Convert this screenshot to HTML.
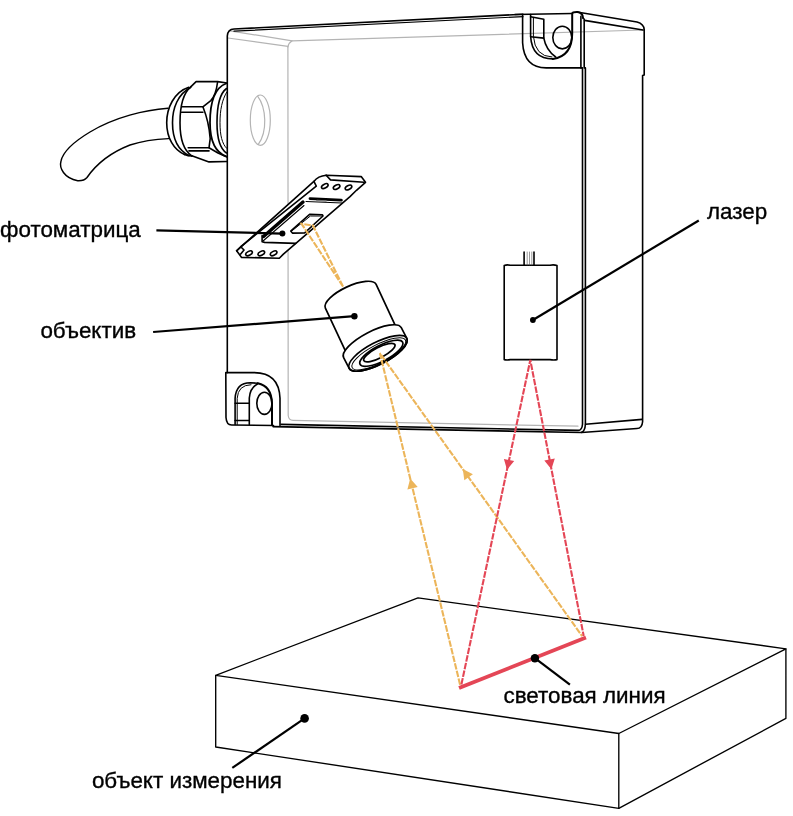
<!DOCTYPE html>
<html><head><meta charset="utf-8">
<style>
html,body{margin:0;padding:0;background:#fff;}
svg{display:block;will-change:transform;}
text{font-family:"Liberation Sans",sans-serif;font-size:22.4px;fill:#000;stroke:#000;stroke-width:0.35px;}
</style></head>
<body>
<svg width="793" height="816" viewBox="0 0 793 816">

<g fill="none" stroke="#000" stroke-width="1.6" stroke-linejoin="round" stroke-linecap="round">

<!-- ===== gray hidden lines ===== -->
<g stroke="#b4b4b4" stroke-width="1.2">
  <path d="M228,38 L287.9,46.4 L288.2,415.5 Q288.8,420.3 293,420.4 L578,426.2"/>
  <path d="M230,30.9 L292.2,40.8 L643,30"/>
  <path d="M287.9,47 Q288.5,43 292.2,40.8"/>
  <ellipse cx="260.3" cy="120.2" rx="10" ry="25.2"/>
  <path d="M257.6,96.2 C266.5,108 267.5,132 258.3,144.3"/>
</g>

<!-- ===== side face ===== -->
<path d="M577,12 L637,22 Q644,24 644.2,29.6 L644.2,75 L642.6,75.5 L642.6,421.7 Q642,428.5 636.9,428.5 L581.7,432.5"/>
<path d="M584.5,20.4 L643,30"/>
<path d="M585.5,424.2 L642,419.4"/>

<!-- ===== housing front face ===== -->
<path d="M227.3,372.6 L227.3,36 Q227.8,29.2 234,29 L523,14.2"/>
<path d="M234,31.2 L523,16.6" stroke-width="1.2"/>
<!-- top-right ear -->
<path d="M522.6,14.5 L522.6,42.8 Q524,67.9 546.2,67.9 L581.2,67.9"/>
<path d="M515,14.5 L572.2,13.5"/>
<path d="M530.6,14.5 L530.6,36.2 Q532,58.9 552.8,58.9"/>
<path d="M533.4,18.2 L533.4,36.2 Q535,56.5 552,57" stroke-width="1"/>
<path d="M552.8,58.9 Q572.2,56 572.2,33.4 L572.2,13.5 Q572.5,12 577.4,12.1 Q583,13 583.1,18.2" stroke-width="2"/>
<path d="M530.6,16.8 L543.8,19.2 L543.8,38.1 L530.6,36.7"/>
<path d="M543.8,38.1 Q546,50 555.7,57"/>
<ellipse cx="562.3" cy="37.6" rx="9.5" ry="11.3"/>
<!-- right edge double -->
<path d="M580.9,16.4 L580.9,67.9 L582.5,67.9 L582.5,424.2 Q582,430.7 577.7,430.4 L281,424.4"/>
<path d="M584.2,19 L584.2,67.9 L585.4,67.9 L585.4,424.2 Q585,431 581.7,432.2"/>
<path d="M273,426.6 L581.7,432.5"/>
<!-- bottom-left ear -->
<path d="M280,425.5 L280,398.3 Q279,372.6 254.3,372.6 L225.8,372.6 L226,417.5 Q226.5,425 231.6,425 L273.5,425.5"/>
<path d="M235.1,424.5 L235.1,398.3 Q236,382.7 250.3,382.7 L257.8,383.2"/>
<path d="M237.2,424.5 L237.2,398.3 Q238,385 251,384.7" stroke-width="1"/>
<path d="M257.8,383.2 Q271.5,386 272,403.3 L272,425" stroke-width="2"/>
<path d="M249.3,424.5 L249.3,398 Q250,388 257.8,383.7"/>
<ellipse cx="264.4" cy="403.3" rx="7.6" ry="11.1"/>
<path d="M235.1,403.3 L249.3,403.3 M235.1,420.5 L249.3,420.5"/>

<!-- ===== cable ===== -->
<path fill="#fff" stroke-width="1.45" d="M168,108.3 C145,110 115,117 90,132 C75,141 63,152 61,161 C59,168 64,178 77.7,180.8 C82,181 85,180 87,177.5 C97,163 112,152 130,145 C145,140 158,139 168.5,138.6"/>
<!-- gland washer rings -->
<path fill="#fff" d="M188.8,87.2 C174,92 166.7,108 166.7,122.7 C166.7,138 174,150 184.5,154.5 L192,156 L192,86 Z" stroke="none"/>
<path d="M188.8,87.2 C174,92 166.7,108 166.7,122.7 C166.7,138 174,150 184.5,154.5"/>
<path d="M190.5,87.5 C178,94 172.5,108 172.5,122.7 C172.5,138 178,150 189,155.5"/>
<path d="M191,86.6 C182,94 180,108 180,122.7 C180,138 183,150 191.8,155.8"/>
<path d="M184.5,154.5 Q188,156 192,156"/>
<!-- hex nut -->
<path d="M191,86.6 L196.1,81.6 L217.6,81.6 L227,83"/>
<path d="M182,106.8 L202.9,106.8 L210.8,100.6 Q216,95 217.6,82"/>
<path d="M181.5,112.3 L202.9,112.3"/>
<path d="M202.9,106.8 Q209,122 210.2,138.6 L209,147.8"/>
<path d="M188.2,147.8 L209,147.8 L218,153 L227,157"/>
<path d="M189,150.9 L209,150.9"/>
<path d="M191.8,155.8 L209,161.9 L227,161.5"/>
<!-- gland right rings -->
<path d="M226.2,83.5 C214,88 210,105 210,122.7 C210,140 214,152 226.5,156.5" stroke-width="1.8"/>
<path d="M226.5,88.5 C219,94 217,108 217,122.7 C217,137 219,148 226.5,153"/>
<path d="M226.8,92 C222,100 220,110 220,122.7 C220,135 222,144 226.8,148.4" stroke-width="1"/>

<!-- ===== photomatrix ===== -->
<path fill="#fff" d="M236.6,250.8 L313.9,181.4 Q318,176 326.2,175.2 L361.2,176.6 L365.5,182.3 L356.5,190.3 L350,196.6 L283.4,254.1 L279.3,258.2 L241.6,257.4 Z"/>
<path d="M236.6,250.8 L240.7,246.7 L244,250 L240.7,254.1 M240.7,246.7 L316.3,186.1 L313.9,181.4"/>
<path d="M326.2,175.2 L330.5,179.9 L364,182.3"/>
<ellipse cx="324.8" cy="186.1" rx="3.6" ry="1.9" transform="rotate(-28 324.8 186.1)"/>
<ellipse cx="336.6" cy="187" rx="3.6" ry="1.9" transform="rotate(-28 336.6 187)"/>
<ellipse cx="348.5" cy="187.5" rx="3.6" ry="1.9" transform="rotate(-28 348.5 187.5)"/>
<ellipse cx="249" cy="253.3" rx="3.6" ry="1.9" transform="rotate(-28 249 253.3)"/>
<ellipse cx="261.3" cy="253.3" rx="3.6" ry="1.9" transform="rotate(-28 261.3 253.3)"/>
<ellipse cx="273.6" cy="253.3" rx="3.6" ry="1.9" transform="rotate(-28 273.6 253.3)"/>
<!-- chip -->
<path d="M263.5,236.5 L303,202" stroke-width="3.4"/>
<path d="M263,241 L304,205.5" stroke-width="1.1"/>
<path d="M310,198.6 L341.4,200.2" stroke-width="2.8"/>
<path d="M306,201.5 L342,203" stroke-width="1.1"/>
<path d="M262.1,235.5 L262.1,241.8 L264.6,242.4 L295.7,243.4"/>
<path d="M317,200.5 L326,201" stroke="#777" stroke-width="1.6"/>
<!-- window -->
<path d="M290.7,231.1 L309.6,214.3 L322.3,214.7 L323,216 L304.7,232.9 L292.4,233.1 Z"/>
<path d="M292.4,230.5 L310.4,216 L321.5,216" stroke-width="1"/>
<!-- ===== laser ===== -->
<path fill="#fff" d="M504.2,265.5 Q507,264.5 510,265.2 L550,265.2 Q554,264.5 557,265.5 L557,359.6 Q554,360.3 550,359.6 L510,359.6 Q507,360.3 504.2,359.6 Z"/>
<path d="M524.1,265 L524.1,252 M534,252 L534,265"/>
<path d="M527.2,252 L527.2,265 M529.5,252 L529.5,265 M531.8,252 L531.8,265" stroke-width="0.6" stroke="#555"/>

<!-- ===== measured object ===== -->
<g stroke-width="1.35">
<path d="M215.7,675.3 L418,597.9 L785.9,648.8 L618.8,733.5 Z"/>
<path d="M215.7,675.3 L215.7,747 L618.8,808.3 L785.9,718.4 L785.9,648.8"/>
<path d="M618.8,733.5 L618.8,808.3"/>
</g>
</g>

<!-- ===== rays ===== -->
<g fill="none" stroke-width="2.1" stroke-dasharray="6.5 1.3">
  <path stroke="#ecb55a" d="M343.1,286.7 L301.6,223.9 L312.9,225.5 Z"/>
</g>
<!-- lens (covers rays) -->
<g fill="#fff" stroke="#000" stroke-width="1.7" stroke-linejoin="round">
<path transform="translate(377.8 354.2) rotate(-25)" d="M-28,-64 A28,10 0 0 1 28,-64 L28,-10 L-28,-10 Z"/>
<g transform="translate(378 353.3) rotate(-27.5)">
<path d="M-32.5,-12 A32.5,11 0 0 1 32.5,-12 L32.5,0 A32.5,11 0 0 1 -32.5,0 Z"/>
<ellipse rx="32.5" ry="11" fill="none"/>
<ellipse cx="0.5" cy="0.8" rx="30" ry="9.2" fill="none" stroke-width="1"/>
<ellipse cx="3" cy="1.5" rx="24" ry="7.8" fill="none"/>
<ellipse cx="1.5" cy="0" rx="17.5" ry="5.2" fill="none" stroke-width="1.8"/>
</g>
</g>
<g fill="none" stroke-width="2.1" stroke-dasharray="6.5 1.3">
  <path stroke="#ecb55a" d="M460.1,684.7 L379.9,353.2 L582.2,636.2"/>
  <path stroke="#e44656" d="M461.4,684.5 L530.3,360 L583.7,636"/>
</g>
<path stroke="#e44656" stroke-width="3.8" stroke-linecap="square" d="M460.8,687.3 L584.2,638.2"/>
<g stroke="none">
  <path fill="#e44656" d="M507.0,469.8 L503.9,458.9 L514.2,461.1 Z M551.4,469.3 L544.3,460.5 L554.8,458.5 Z"/>
  <path fill="#ecb55a" d="M410.2,478.6 L417.7,487.1 L407.4,489.6 Z M462.8,469.1 L472.9,474.2 L464.3,480.3 Z"/>
</g>

<!-- ===== labels ===== -->
<g stroke="#000" stroke-width="2.2" fill="none">
  <path d="M156.4,230.3 L282.4,233.6"/>
  <path d="M153.1,332 L354.4,316.2"/>
  <path d="M698.8,220.5 L532.9,320"/>
  <path d="M534.9,658.2 L569.9,684.7"/>
  <path d="M304.6,718.4 L232.3,767.9"/>
</g>
<g fill="#000">
  <circle cx="282.4" cy="233.6" r="3"/>
  <circle cx="354.4" cy="316.2" r="3.2"/>
  <circle cx="532.9" cy="320" r="2.9"/>
  <circle cx="534.9" cy="658.2" r="4.2"/>
  <circle cx="304.6" cy="718.4" r="4.3"/>
</g>
<text x="0" y="237.3">фотоматрица</text>
<text x="40.4" y="338">объектив</text>
<text x="707" y="218.6">лазер</text>
<text x="503.5" y="702.6">световая линия</text>
<text x="91.9" y="788.3">объект измерения</text>
</svg>
</body></html>
